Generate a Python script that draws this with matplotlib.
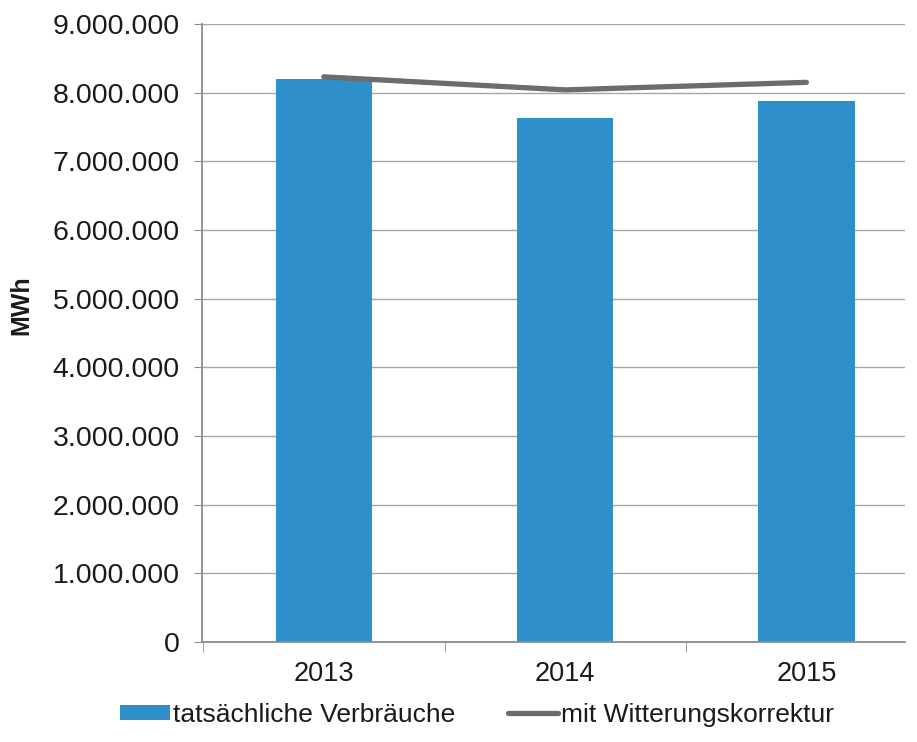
import numpy as np
import matplotlib.pyplot as plt
from matplotlib.ticker import FuncFormatter

# Daten
jahre = ['2013', '2014', '2015']
verbrauch = [8200000, 7635000, 7880000]
witterung = [8230000, 8040000, 8150000]

plt.rcParams['font.family'] = ['Liberation Sans', 'DejaVu Sans']

fig = plt.figure(figsize=(9.17, 7.42), dpi=100)
ax = fig.add_axes([0.2203, 0.1348, 0.767, 0.8329])

x = np.arange(len(jahre))
balken = ax.bar(x, verbrauch, width=0.4, color='#2E8FCB', label='tatsächliche Verbräuche', zorder=2)
linie, = ax.plot(x, witterung, color='#6B6B70', linewidth=3.8, solid_capstyle='round',
                 label='mit Witterungskorrektur', zorder=3)

ax.set_ylim(0, 9000000)
ax.set_yticks(np.arange(0, 9000001, 1000000))
ax.yaxis.set_major_formatter(FuncFormatter(lambda v, p: f'{int(v):,}'.replace(',', '.')))
ax.set_xlim(-0.505, 2.41)
ax.set_xticks(x)
ax.set_xticklabels(jahre)
ax.set_xticks([-0.5, 0.5, 1.5], minor=True)

ax.grid(axis='y', color='#A6A6A6', linewidth=1, zorder=0)
for s in ['top', 'right']:
    ax.spines[s].set_visible(False)
for s in ['left', 'bottom']:
    ax.spines[s].set_color('#8C8C8C')
    ax.spines[s].set_linewidth(1.3)

ax.tick_params(axis='y', length=6, color='#8C8C8C', labelsize=20.5, pad=10, labelcolor='#1A1A1A')
ax.tick_params(axis='x', which='major', length=0, labelsize=19.5, pad=14, labelcolor='#1A1A1A')
ax.tick_params(axis='x', which='minor', length=7, color='#8C8C8C')

ax.set_ylabel('MWh', fontsize=18, fontweight='bold', color='#1A1A1A')
ax.yaxis.set_label_coords(-0.240, 0.545)

fig.legend([balken, linie], ['tatsächliche Verbräuche', 'mit Witterungskorrektur'],
           loc='center', bbox_to_anchor=(0.52, 0.037), ncol=2, frameon=False,
           fontsize=19, handlelength=1.9, handleheight=0.5, handletextpad=0.1,
           columnspacing=2.0, labelcolor='#1A1A1A')

plt.savefig('out.png', dpi=100)
